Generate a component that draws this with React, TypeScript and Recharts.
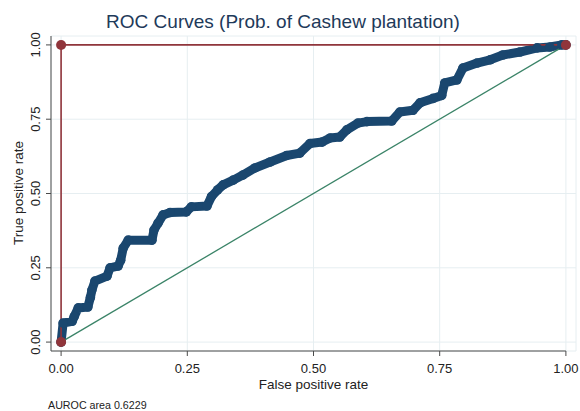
import * as React from 'react';
import {ComposedChart, XAxis, YAxis, Line, CartesianGrid, ReferenceLine} from "recharts";

// ROC curve (false positive rate / true positive rate)
const rocFpr = [0, 0.004, 0.022, 0.026, 0.034, 0.053, 0.058, 0.061, 0.067, 0.091, 0.097, 0.113, 0.118, 0.123, 0.133,
    0.18, 0.184, 0.192, 0.202, 0.216, 0.248, 0.258, 0.289, 0.298, 0.31, 0.321, 0.341, 0.36, 0.384, 0.414,
    0.447, 0.473, 0.493, 0.517, 0.533, 0.552, 0.566, 0.588, 0.606, 0.655, 0.671, 0.697, 0.711, 0.737,
    0.754, 0.76, 0.784, 0.796, 0.824, 0.85, 0.875, 0.909, 0.943, 0.968, 0.992, 1];
const rocTpr = [0, 0.064, 0.07, 0.086, 0.115, 0.118, 0.15, 0.175, 0.205, 0.222, 0.25, 0.256, 0.275, 0.316, 0.343,
    0.343, 0.377, 0.4, 0.428, 0.436, 0.438, 0.455, 0.458, 0.49, 0.512, 0.529, 0.545, 0.562, 0.586, 0.606,
    0.628, 0.636, 0.668, 0.673, 0.687, 0.69, 0.714, 0.737, 0.742, 0.744, 0.774, 0.78, 0.805, 0.82,
    0.83, 0.872, 0.882, 0.922, 0.939, 0.95, 0.966, 0.976, 0.99, 0.993, 1, 1];

// perfect classifier and chance line
const perfectFpr = [0, 0, 1];
const perfectTpr = [0, 1, 1];
const chanceFpr = [0, 1];
const chanceTpr = [0, 1];

const ticks = [0, 0.25, 0.5, 0.75, 1];
const tickLabels = ["0.00", "0.25", "0.50", "0.75", "1.00"];
const title = "ROC Curves (Prob. of Cashew plantation)";
const xTitle = "False positive rate";
const yTitle = "True positive rate";
const note = "AUROC area 0.6229";

const rocData = rocFpr.map((x, i) => ({x, y: rocTpr[i]}));
const perfectData = perfectFpr.map((x, i) => ({x, y: perfectTpr[i]}));
const chanceData = chanceFpr.map((x, i) => ({x, y: chanceTpr[i]}));

const font = "'Liberation Sans', Arial, sans-serif";
const navy = "#1a476f";
const maroon = "#90353b";
const green = "#3b8468";
const axisCol = "#4a4a4a";

const fmt = (v: number) => tickLabels[ticks.indexOf(v)] ?? v.toFixed(2);

const YTick = (props: any) => {
    const {y, payload} = props;
    return (
        <text x={40} y={y} transform={`rotate(-90, 40, ${y})`} textAnchor="middle"
              fontSize={13} fontFamily={font} fill="#222">
            {fmt(payload.value)}
        </text>
    );
};

export default function App() {
    return (
        <div style={{position: 'absolute', left: 0, top: 0}}>
            <ComposedChart width={580} height={411} margin={{top: 36, right: 4, bottom: 30, left: 0}}>
                <CartesianGrid stroke="#e6eef1" strokeWidth={1} />
                <XAxis type="number" dataKey="x" domain={[-0.02, 1.02]} ticks={ticks} allowDataOverflow
                       axisLine={false} tickLine={{stroke: axisCol}} tickSize={5} tickMargin={8} height={30}
                       tickFormatter={fmt} tick={{fontSize: 13, fontFamily: font, fill: "#222"}} />
                <YAxis type="number" dataKey="y" domain={[-0.03, 1.03]} ticks={ticks} allowDataOverflow width={51}
                       axisLine={{stroke: axisCol}} tickLine={{stroke: axisCol}} tickSize={5} tick={<YTick />} />
                <ReferenceLine segment={[{x: -0.02, y: -0.03}, {x: 1, y: -0.03}]} stroke={axisCol} ifOverflow="visible" />

                <Line data={rocData} dataKey="y" type="linear" stroke={navy} strokeWidth={9}
                      strokeLinejoin="round" strokeLinecap="round"
                      dot={{r: 4.8, fill: navy, stroke: "none"}} isAnimationActive={false} />
                <Line data={perfectData} dataKey="y" type="linear" stroke={maroon} strokeWidth={1.6}
                      dot={{r: 5, fill: maroon, stroke: "none"}} isAnimationActive={false} />
                <Line data={chanceData} dataKey="y" type="linear" stroke={green} strokeWidth={1.3}
                      dot={false} isAnimationActive={false} />

                <text x={283} y={28} textAnchor="middle" fontSize={19} fontFamily={font} fill="#1e3a5a">{title}</text>
                <text x={313.5} y={389} textAnchor="middle" fontSize={13.5} fontFamily={font} fill="#222">{xTitle}</text>
                <text x={23} y={193} transform="rotate(-90, 23, 193)" textAnchor="middle" fontSize={13.5}
                      fontFamily={font} fill="#222">{yTitle}</text>
                <text x={48} y={409} fontSize={10.7} fontFamily={font} fill="#222">{note}</text>
            </ComposedChart>
        </div>
    );
}
